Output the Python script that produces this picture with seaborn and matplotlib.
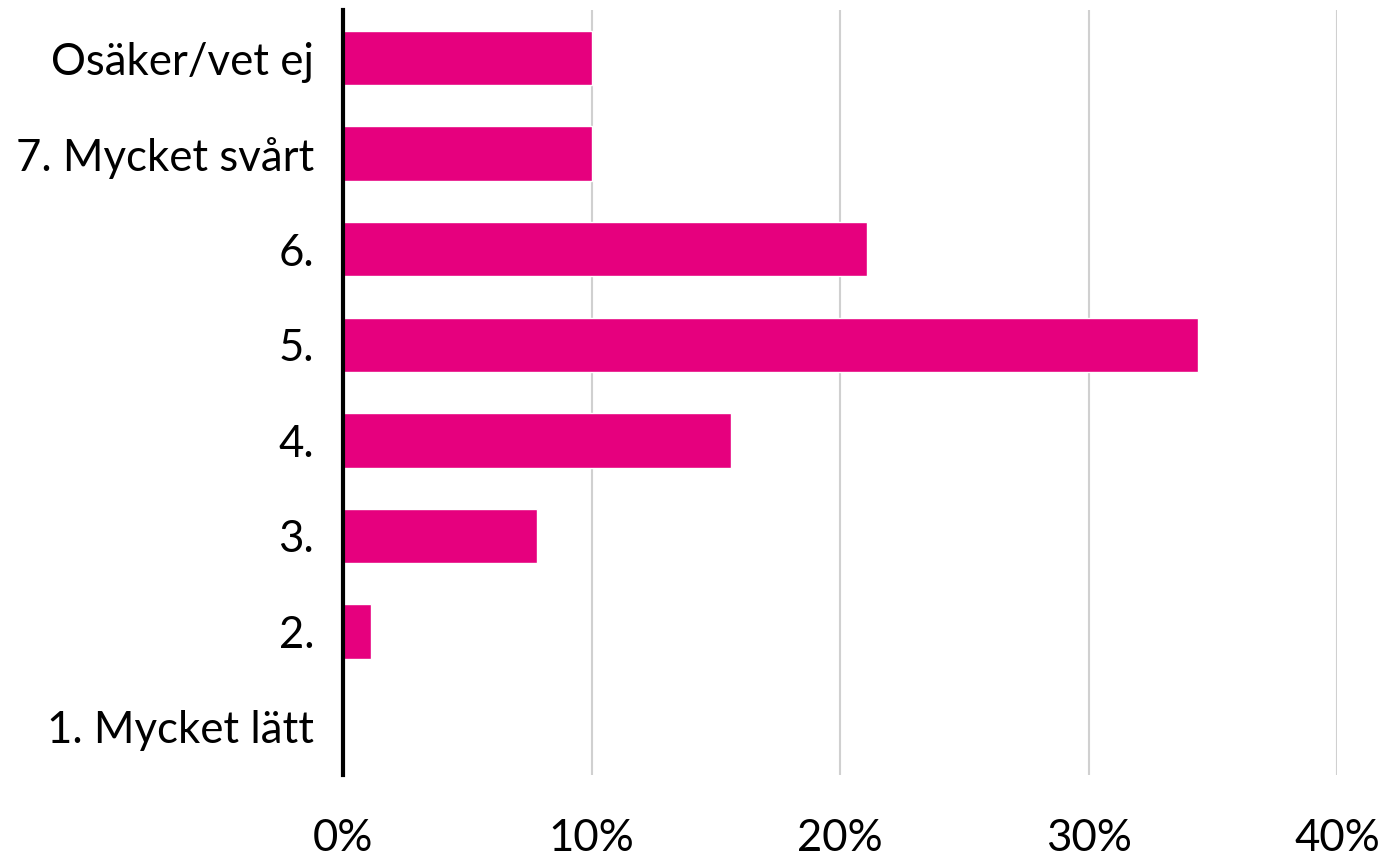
import matplotlib
matplotlib.use('Agg')
import matplotlib.pyplot as plt
import seaborn as sns
import pandas as pd
from matplotlib.ticker import PercentFormatter

# --- data ---
categories = ['Osäker/vet ej', '7. Mycket svårt', '6.', '5.', '4.', '3.', '2.', '1. Mycket lätt']
shares = [10.0, 10.0, 21.1, 34.4, 15.6, 7.8, 1.1, 0.0]
x_ticks = [0, 10, 20, 30, 40]

df = pd.DataFrame({'category': categories, 'share': shares})

sns.set_style('white')
plt.rcParams['font.family'] = ['Lato', 'DejaVu Sans']

fig = plt.figure(figsize=(13.84, 8.58), dpi=100)
ax = fig.add_axes([0.248, 0.097, 0.718, 0.891])

sns.barplot(data=df, x='share', y='category', order=categories, color='#E6007E',
            saturation=1, width=0.57, ax=ax)

ax.set_xlim(0, 40)
ax.set_ylim(len(categories) - 0.5, -0.5)
ax.set_xticks(x_ticks)
ax.xaxis.set_major_formatter(PercentFormatter(decimals=0))
ax.grid(axis='x', color='#D0D0D0', linewidth=1.5)
ax.set_axisbelow(True)

for side in ['top', 'right', 'bottom']:
    ax.spines[side].set_visible(False)
ax.spines['left'].set_color('black')
ax.spines['left'].set_linewidth(3)
ax.spines['left'].set_zorder(5)

ax.tick_params(axis='x', length=0, pad=31, labelsize=31.5, labelcolor='black')
ax.tick_params(axis='y', length=0, pad=21, labelsize=31.5, labelcolor='black')
ax.set_xlabel('')
ax.set_ylabel('')

fig.savefig('out.png', dpi=100)
